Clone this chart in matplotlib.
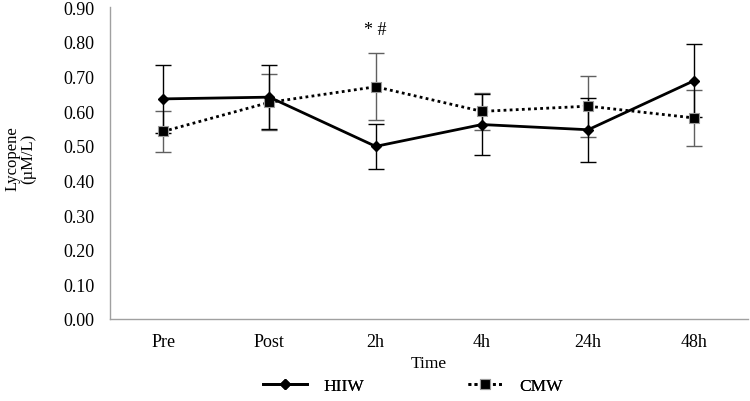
import matplotlib
matplotlib.use("Agg")
import matplotlib.pyplot as plt
from matplotlib.lines import Line2D

plt.rcParams["font.family"] = ["Liberation Serif", "DejaVu Serif"]

times = ["Pre", "Post", "2h", "4h", "24h", "48h"]
hiiw = [0.635, 0.640, 0.498, 0.561, 0.546, 0.688]
hiiw_err = [0.099, 0.093, 0.065, 0.087, 0.093, 0.104]
cmw = [0.541, 0.625, 0.670, 0.599, 0.614, 0.580]
cmw_err = [0.058, 0.081, 0.096, 0.053, 0.088, 0.081]
yticks = [0.0, 0.1, 0.2, 0.3, 0.4, 0.5, 0.6, 0.7, 0.8, 0.9]

fig = plt.figure(figsize=(7.5, 4.02), dpi=100)
ax = fig.add_axes([0.1467, 0.204, 0.850, 0.776])
x = list(range(len(times)))

ax.errorbar(x, cmw, yerr=cmw_err, fmt="none", ecolor="#606060",
            elinewidth=1.0, capsize=5.5, capthick=1.0, zorder=2)
ax.errorbar(x, hiiw, yerr=hiiw_err, fmt="none", ecolor="black",
            elinewidth=1.0, capsize=5.5, capthick=1.0, zorder=2)
dotted = (0, (1, 1.2))
ax.plot(x, cmw, ls=dotted, lw=2.0, color="black", marker="s",
        ms=6.5, mfc="black", mec="#9a9a9a", mew=0.8, zorder=3)
ax.plot(x, hiiw, ls="-", lw=2.0, color="black", marker="D",
        ms=5, mfc="black", mec="black", zorder=4)

ax.text(2, 0.835, "* #", ha="center", va="center", fontsize=13)

ax.set_xlim(-0.5, len(times) - 0.5)
ax.set_ylim(0, 0.9)
ax.set_yticks(yticks)
ax.set_yticklabels([f"{v:.2f}" for v in yticks], fontsize=13)
ax.set_xticks(x)
ax.set_xticklabels(times, fontsize=13)
ax.tick_params(length=0)
ax.tick_params(axis="x", pad=10)
ax.tick_params(axis="y", pad=11)
for s in ["top", "right"]:
    ax.spines[s].set_visible(False)
for s in ["left", "bottom"]:
    ax.spines[s].set_color("#a0a0a0")
    ax.spines[s].set_linewidth(1.0)

ax.set_xlabel("Time", fontsize=12.5, labelpad=4)
fig.text(0.027, 0.605, "Lycopene\n(\u00b5M/L)", rotation=90, ha="center",
         va="center", fontsize=12, linespacing=1.0)

h1 = Line2D([0], [0], color="black", lw=2.0, marker="D", ms=5, label="HIIW")
h2 = Line2D([0], [0], color="black", lw=2.0, ls=dotted, marker="s",
            ms=6.5, mec="#9a9a9a", mew=0.8, label="CMW")
leg_y = 1 - 387 / 402
for h, lx, hl in [(h1, 263, 2.55), (h2, 468, 2.0)]:
    leg = fig.legend(handles=[h], loc="center left",
                     bbox_to_anchor=(lx / 750, leg_y), frameon=False,
                     fontsize=12.5, handlelength=hl, handletextpad=0.95,
                     borderpad=0, borderaxespad=0)
    fig.add_artist(leg)

fig.savefig("out.png", dpi=100)
